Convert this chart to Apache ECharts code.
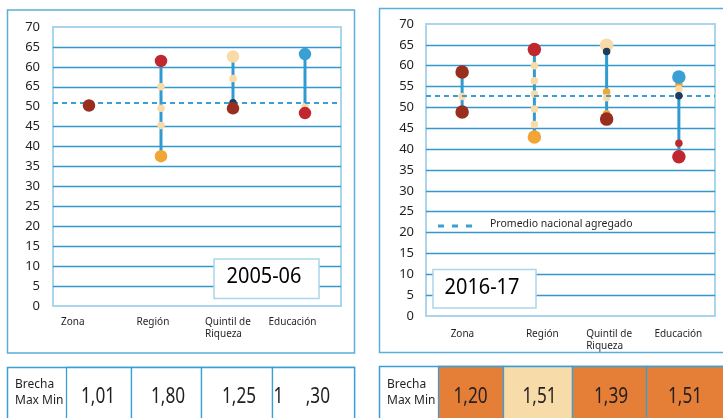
<!DOCTYPE html>
<html><head><meta charset="utf-8">
<script src="https://cdn.jsdelivr.net/npm/echarts@6/dist/echarts.min.js"></script>
<style>html,body{margin:0;padding:0;background:#fff}#c{width:723px;height:418px}</style>
</head><body><div id="c"></div>
<script>
// ---------- DATA ----------
const categories = ['Zona', 'Región', 'Quintil de\nRiqueza', 'Educación'];
const yTickLabels05 = ['0','5','10','15','20','25','30','35','40','45','50','65','60','65','70'];
const yTickLabels16 = ['0','5','10','15','20','25','30','35','40','45','50','55','60','65','70'];

// 2005-06
const big05DarkBrown = [['Zona', 50.3], ['Quintil de\nRiqueza', 49.6]];
const big05Red       = [['Región', 61.5], ['Educación', 48.4]];
const big05Orange    = [['Región', 37.6]];
const big05Cream     = [['Quintil de\nRiqueza', 62.6]];
const big05Blue      = [['Educación', 63.2]];
const small05Cream   = [['Región', 55.0], ['Región', 49.6], ['Región', 45.3], ['Quintil de\nRiqueza', 57.1], ['Educación', 50.0]];
const small05Navy    = [['Quintil de\nRiqueza', 51.0]];
const small05Orange  = [];
const small05Red     = [];
const average05 = 50.9;

// 2016-17
const big16DarkBrown = [['Zona', 58.5], ['Zona', 48.9], ['Quintil de\nRiqueza', 47.2]];
const big16Red       = [['Región', 63.9], ['Educación', 38.2]];
const big16Orange    = [['Región', 42.9]];
const big16Cream     = [['Quintil de\nRiqueza', 64.9]];
const big16Blue      = [['Educación', 57.3]];
const small16Cream   = [['Zona', 52.6], ['Región', 60.0], ['Región', 56.4], ['Región', 53.2], ['Región', 49.6], ['Región', 45.9], ['Quintil de\nRiqueza', 52.3], ['Educación', 54.4]];
const small16Navy    = [['Quintil de\nRiqueza', 63.4], ['Educación', 52.8]];
const small16Orange  = [['Quintil de\nRiqueza', 53.7], ['Quintil de\nRiqueza', 48.5], ['Educación', 55.5]];
const small16Red     = [['Educación', 41.4]];
const average16 = 52.8;

const yearLabel05 = '2005-06';
const yearLabel16 = '2016-17';
const legendLabel = 'Promedio nacional agregado';
const tableHeader = ['Brecha', 'Max Min'];
const gap05 = ['1,01', '1,80', '1,25', '1     ,30'];
const gap16 = ['1,20', '1,51', '1,39', '1,51'];
const gap16Level = ['high', 'low', 'high', 'high'];

// ---------- STYLE ----------
const C = {
  darkBrown: '#9a2e1e', red: '#c1272e', orange: '#f0a535', cream: '#f8dba7',
  blue: '#3a9fd5', navy: '#1d3d5d', stem: '#2f9bd1', grid: '#3598cc',
  border: '#a9d6ea', outer: '#5aaed8', text: '#231f20',
  cellHigh: '#e57f38', cellLow: '#f7dcaa'
};
const FONT = '"Noto Sans", "Open Sans", sans-serif';

function ranges(groups) {
  return categories.map(cat => {
    const vals = [];
    groups.forEach(g => g.forEach(p => { if (p[0] === cat) vals.push(p[1]); }));
    if (!vals.length) return null;
    return [cat, Math.min(...vals), Math.max(...vals)];
  }).filter(Boolean);
}

function scatter(idx, data, color, size, z) {
  return { type: 'scatter', xAxisIndex: idx, yAxisIndex: idx, data: data,
    symbolSize: size, itemStyle: { color: color, opacity: 1 }, z: z, silent: true };
}

function chartSeries(idx, g, avg, big) {
  const rangeData = ranges([g.bDB, g.bR, g.bO, g.bC, g.bB, g.sC, g.sN, g.sO, g.sR]);
  return [
    { type: 'custom', xAxisIndex: idx, yAxisIndex: idx, data: rangeData, z: 2, silent: true,
      encode: { x: 0, y: [1, 2] },
      renderItem: (params, api) => {
        const x = api.value(0);
        const p1 = api.coord([x, api.value(1)]);
        const p2 = api.coord([x, api.value(2)]);
        return { type: 'line', shape: { x1: p1[0], y1: p1[1], x2: p2[0], y2: p2[1] },
          style: { stroke: C.stem, lineWidth: 3 } };
      },
      markLine: { silent: true, symbol: 'none', label: { show: false },
        lineStyle: { color: C.blue, width: 2, type: [5, 4] },
        data: [{ yAxis: avg }] }
    },
    scatter(idx, g.sO, C.orange, 7.5, 3),
    scatter(idx, g.sC, C.cream, 7.5, 4),
    scatter(idx, g.bC, C.cream, big, 5),
    scatter(idx, g.sN, C.navy, 7.5, 6),
    scatter(idx, g.bDB, C.darkBrown, big, 7),
    scatter(idx, g.bO, C.orange, big, 7),
    scatter(idx, g.bR, C.red, big, 7),
    scatter(idx, g.bB, C.blue, big, 7),
    scatter(idx, g.sR, C.red, 7.5, 7)
  ];
}

function gridLineColors(hidden) {
  const arr = [];
  for (let i = 0; i < 15; i++) arr.push(hidden.includes(i) ? 'rgba(0,0,0,0)' : C.grid);
  return arr;
}

function xAxis(idx, widths, margin) {
  const rich = {};
  widths.forEach((w, i) => { rich['a' + i] = { width: w, align: 'left', fontSize: 10, lineHeight: 12, color: C.text, fontFamily: FONT }; });
  return { type: 'category', gridIndex: idx, data: categories, boundaryGap: true,
    axisLine: { show: false }, axisTick: { show: false }, splitLine: { show: false },
    axisLabel: { interval: 0, margin: margin, fontSize: 10, lineHeight: 12, color: C.text, fontFamily: FONT,
      formatter: (v, i) => v.split('\n').map(s => '{a' + i + '|' + s + '}').join('\n'), rich: rich } };
}

function yAxis(idx, labels, hidden, margin) {
  return { type: 'value', gridIndex: idx, min: 0, max: 70, interval: 5,
    axisLine: { show: false }, axisTick: { show: false },
    splitLine: { show: true, lineStyle: { color: gridLineColors(hidden), width: 1.3 } },
    axisLabel: { margin: margin, fontSize: 13, color: C.text, fontFamily: FONT,
      formatter: v => labels[Math.round(v / 5)] } };
}

// ---------- GRAPHICS (frames, year boxes, legend, tables) ----------
const graphics = [];
graphics.push({ type: 'rect', shape: { x: 7.5, y: 10, width: 347, height: 343 }, style: { fill: 'none', stroke: C.outer, lineWidth: 1.5 }, z: 1 });
graphics.push({ type: 'rect', shape: { x: 379.5, y: 8.5, width: 360, height: 344 }, style: { fill: 'none', stroke: C.outer, lineWidth: 1.5 }, z: 1 });
// year boxes
graphics.push({ type: 'rect', shape: { x: 214, y: 259, width: 105, height: 39.5 }, style: { fill: '#fff', stroke: C.border, lineWidth: 1.5 }, z: 100 });
graphics.push({ type: 'text', x: 264, y: 277, scaleX: 0.95, style: { text: yearLabel05, font: '21px ' + FONT, fill: '#000', textAlign: 'center', textVerticalAlign: 'middle' }, z: 101 });
graphics.push({ type: 'rect', shape: { x: 433, y: 269.5, width: 103, height: 38.5 }, style: { fill: '#fff', stroke: C.border, lineWidth: 1.5 }, z: 100 });
graphics.push({ type: 'text', x: 482, y: 288, scaleX: 0.95, style: { text: yearLabel16, font: '21px ' + FONT, fill: '#000', textAlign: 'center', textVerticalAlign: 'middle' }, z: 101 });
// legend
graphics.push({ type: 'line', shape: { x1: 438, y1: 226, x2: 476, y2: 226 }, style: { stroke: C.blue, lineWidth: 3, lineDash: [6, 8] }, z: 100 });
graphics.push({ type: 'text', x: 490, y: 224, style: { text: legendLabel, font: '10.5px ' + FONT, fill: C.text, textAlign: 'left', textVerticalAlign: 'middle' }, z: 100 });

// tables
function table(x0, colEdges, top, values, fills) {
  const bottom = 440;
  graphics.push({ type: 'rect', shape: { x: x0, y: top, width: colEdges[colEdges.length - 1] - x0, height: bottom - top }, style: { fill: '#fff', stroke: C.blue, lineWidth: 1.5 }, z: 10 });
  for (let i = 0; i < values.length; i++) {
    const xa = colEdges[i], xb = colEdges[i + 1];
    graphics.push({ type: 'rect', shape: { x: xa, y: top, width: xb - xa, height: bottom - top }, style: { fill: fills ? fills[i] : '#fff', stroke: C.blue, lineWidth: 1.3 }, z: 11 });
  }
  graphics.push({ type: 'text', x: x0 + 7.5, y: 385, style: { text: tableHeader[0], font: '12px ' + FONT, fill: C.text, textAlign: 'left', textVerticalAlign: 'middle' }, z: 12 });
  graphics.push({ type: 'text', x: x0 + 7.5, y: 401, style: { text: tableHeader[1], font: '12px ' + FONT, fill: C.text, textAlign: 'left', textVerticalAlign: 'middle' }, z: 12 });
}
table(7.5, [66.5, 131.5, 201.5, 272.5, 354.5], 367.5, gap05, null);
table(379.5, [438.5, 503.5, 572.5, 646.5, 740], 366.5, gap16, gap16Level.map(l => l === 'high' ? C.cellHigh : C.cellLow));
// values
const valCenters05 = [98, 168, 239, 273.5];
gap05.forEach((v, i) => {
  const last = i === gap05.length - 1;
  graphics.push({ type: 'text', x: valCenters05[i], y: 397, scaleX: 0.82,
    style: { text: v, font: '21px ' + FONT, fill: C.text, textAlign: last ? 'left' : 'center', textVerticalAlign: 'middle' }, z: 12 });
});
const valCenters16 = [470.5, 539.5, 611, 685];
gap16.forEach((v, i) => {
  graphics.push({ type: 'text', x: valCenters16[i], y: 397, scaleX: 0.82,
    style: { text: v, font: '21px ' + FONT, fill: C.text, textAlign: 'center', textVerticalAlign: 'middle' }, z: 12 });
});

const g05 = { bDB: big05DarkBrown, bR: big05Red, bO: big05Orange, bC: big05Cream, bB: big05Blue, sC: small05Cream, sN: small05Navy, sO: small05Orange, sR: small05Red };
const g16 = { bDB: big16DarkBrown, bR: big16Red, bO: big16Orange, bC: big16Cream, bB: big16Blue, sC: small16Cream, sN: small16Navy, sO: small16Orange, sR: small16Red };

const option = {
  animation: false,
  backgroundColor: '#fff',
  grid: [
    { left: 53, top: 27, width: 288, height: 279, show: true, borderColor: C.border, borderWidth: 2, backgroundColor: 'transparent' },
    { left: 426, top: 24, width: 289, height: 292, show: true, borderColor: C.border, borderWidth: 2, backgroundColor: 'transparent' }
  ],
  xAxis: [xAxis(0, [56, 49, 56, 73], 10), xAxis(1, [23, 17, 41, 49], 12)],
  yAxis: [yAxis(0, yTickLabels05, [0, 10, 14], 13), yAxis(1, yTickLabels16, [0, 14], 12)],
  series: [...chartSeries(0, g05, average05, 12.5), ...chartSeries(1, g16, average16, 13.5)],
  graphic: graphics
};

const chart = echarts.init(document.getElementById('c'), null, { renderer: 'canvas' });
chart.setOption(option);
</script>
</body></html>
